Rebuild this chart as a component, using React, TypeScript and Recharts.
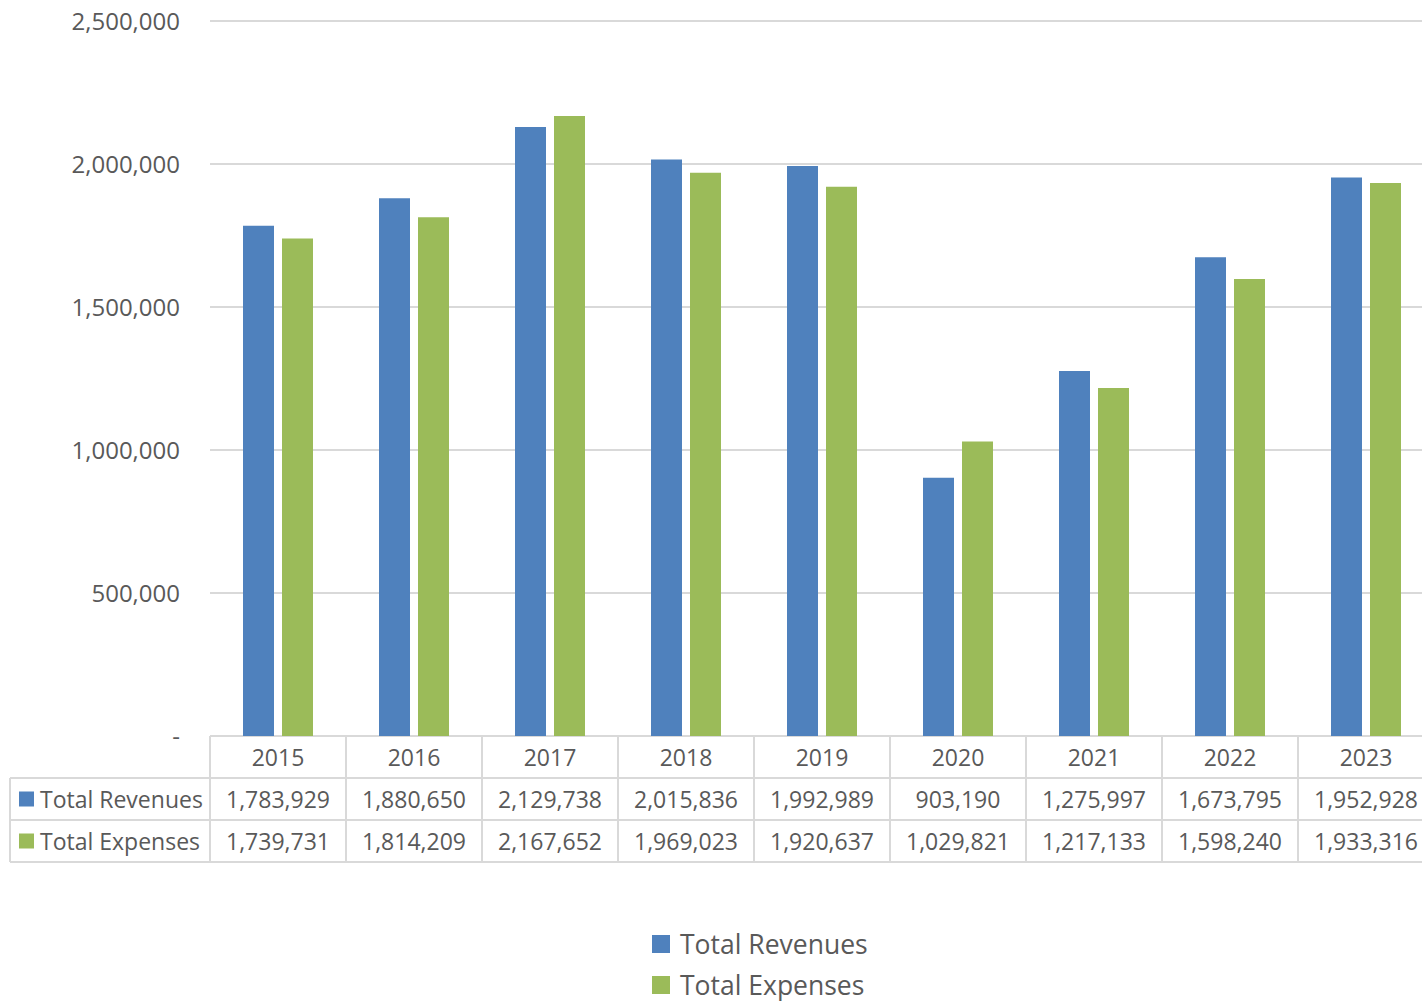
import { Bar, BarChart, CartesianGrid, Legend, XAxis, YAxis } from 'recharts'

const years = ['2015', '2016', '2017', '2018', '2019', '2020', '2021', '2022', '2023']
const revenues = [1783929, 1880650, 2129738, 2015836, 1992989, 903190, 1275997, 1673795, 1952928]
const expenses = [1739731, 1814209, 2167652, 1969023, 1920637, 1029821, 1217133, 1598240, 1933316]
const yTicks = [0, 500000, 1000000, 1500000, 2000000, 2500000]

const REV_LABEL = 'Total Revenues'
const EXP_LABEL = 'Total Expenses'
const BLUE = '#4f81bd'
const GREEN = '#9bbb59'
const TEXT = '#595959'
const BORDER = '#d9d9d9'
const FONT = '"Open Sans", sans-serif'

const WIDTH = 1434
const HEIGHT = 1001
const PLOT_LEFT = 210
const COL_W = (WIDTH - PLOT_LEFT) / years.length
const ROW_H = 42

const fmt = (v: number) => v.toLocaleString('en-US')

const data = years.map((year, i) => ({ year, rev: revenues[i], exp: expenses[i] }))

// eje X dibujado como tabla de datos estilo Excel
function TableTick(props: any) {
  const { x, y, payload, index } = props
  const i = index as number
  const left = x - COL_W / 2
  const right = x + COL_W / 2
  const textProps = {
    fill: TEXT,
    fontSize: 23,
    fontFamily: FONT,
    textAnchor: 'middle' as const,
    dominantBaseline: 'central' as const,
  }
  return (
    <g>
      <line x1={left} x2={left} y1={y} y2={y + ROW_H * 3} stroke={BORDER} strokeWidth={2} />
      <line x1={right} x2={right} y1={y} y2={y + ROW_H * 3} stroke={BORDER} strokeWidth={2} />
      <line x1={left} x2={right} y1={y + ROW_H} y2={y + ROW_H} stroke={BORDER} strokeWidth={2} />
      <line x1={left} x2={right} y1={y + ROW_H * 2} y2={y + ROW_H * 2} stroke={BORDER} strokeWidth={2} />
      <line x1={left} x2={right} y1={y + ROW_H * 3} y2={y + ROW_H * 3} stroke={BORDER} strokeWidth={2} />
      <text x={x} y={y + ROW_H / 2} {...textProps}>{payload.value}</text>
      <text x={x} y={y + ROW_H * 1.5} {...textProps}>{fmt(revenues[i])}</text>
      <text x={x} y={y + ROW_H * 2.5} {...textProps}>{fmt(expenses[i])}</text>
      {i === 0 && (
        <g>
          <line x1={10} x2={left} y1={y + ROW_H} y2={y + ROW_H} stroke={BORDER} strokeWidth={2} />
          <line x1={10} x2={left} y1={y + ROW_H * 2} y2={y + ROW_H * 2} stroke={BORDER} strokeWidth={2} />
          <line x1={10} x2={left} y1={y + ROW_H * 3} y2={y + ROW_H * 3} stroke={BORDER} strokeWidth={2} />
          <line x1={10} x2={10} y1={y + ROW_H} y2={y + ROW_H * 3} stroke={BORDER} strokeWidth={2} />
          <rect x={19} y={y + ROW_H * 1.5 - 7.5} width={15} height={15} fill={BLUE} />
          <rect x={19} y={y + ROW_H * 2.5 - 7.5} width={15} height={15} fill={GREEN} />
          <text x={40} y={y + ROW_H * 1.5} {...textProps} textAnchor="start">{REV_LABEL}</text>
          <text x={40} y={y + ROW_H * 2.5} {...textProps} textAnchor="start">{EXP_LABEL}</text>
        </g>
      )}
    </g>
  )
}

function LegendBox() {
  const items = [
    { label: REV_LABEL, color: BLUE },
    { label: EXP_LABEL, color: GREEN },
  ]
  return (
    <div style={{ height: 139, position: 'relative', fontFamily: FONT }}>
      {items.map((it, i) => (
        <div
          key={it.label}
          style={{
            position: 'absolute',
            left: 652,
            top: 61 + i * 41,
            height: 41,
            display: 'flex',
            alignItems: 'center',
            color: TEXT,
            fontSize: 26.5,
            whiteSpace: 'nowrap',
          }}
        >
          <span style={{ width: 18, height: 18, background: it.color, marginRight: 10, display: 'inline-block' }} />
          {it.label}
        </div>
      ))}
    </div>
  )
}

export default function App() {
  return (
    <div style={{ position: 'absolute', left: 0, top: 0, width: 1422, height: HEIGHT, overflow: 'hidden', background: '#fff' }}>
      <BarChart
        width={WIDTH}
        height={HEIGHT}
        data={data}
        margin={{ top: 21, right: 0, bottom: 0, left: 10 }}
        barSize={31}
        barGap={8}
      >
        <CartesianGrid vertical={false} stroke={BORDER} strokeWidth={2} />
        <XAxis
          dataKey="year"
          axisLine={false}
          tickLine={false}
          tickSize={0}
          tickMargin={0}
          height={ROW_H * 3}
          interval={0}
          tick={<TableTick />}
        />
        <YAxis
          width={200}
          domain={[0, 2500000]}
          ticks={yTicks}
          axisLine={false}
          tickLine={false}
          tickSize={0}
          tickMargin={30}
          tickFormatter={(v: number) => (v === 0 ? '-' : fmt(v))}
          tick={{ fill: TEXT, fontSize: 24, fontFamily: FONT }}
        />
        <Legend verticalAlign="bottom" wrapperStyle={{ left: 0, width: WIDTH }} content={<LegendBox />} />
        <Bar dataKey="rev" name={REV_LABEL} fill={BLUE} isAnimationActive={false} />
        <Bar dataKey="exp" name={EXP_LABEL} fill={GREEN} isAnimationActive={false} />
      </BarChart>
    </div>
  )
}
